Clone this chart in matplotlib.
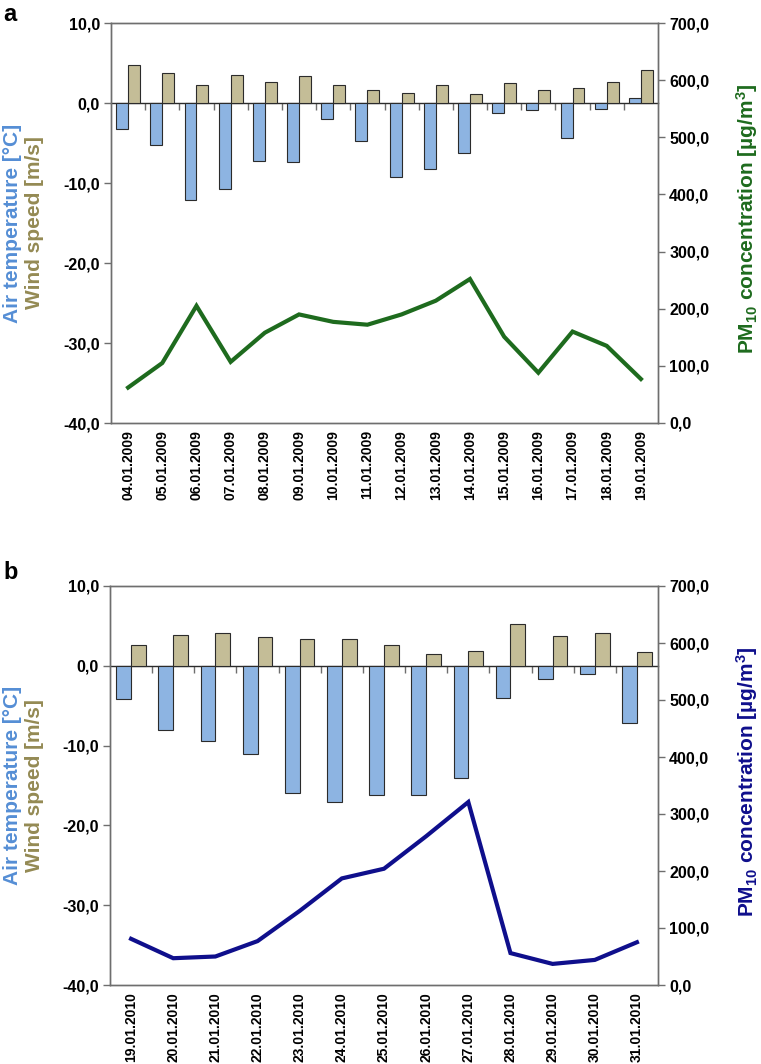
import matplotlib
matplotlib.use("Agg")
import matplotlib.pyplot as plt
import numpy as np
from matplotlib.ticker import FuncFormatter, NullFormatter

plt.rcParams['font.family'] = ['Liberation Sans', 'DejaVu Sans']
plt.rcParams['font.weight'] = 'bold'
plt.rcParams['mathtext.fontset'] = 'custom'
plt.rcParams['mathtext.rm'] = 'Liberation Sans:bold'
plt.rcParams['mathtext.bf'] = 'Liberation Sans:bold'
plt.rcParams['mathtext.it'] = 'Liberation Sans:bold'

# ---- Data panel a ----
dates_a = ["04.01.2009", "05.01.2009", "06.01.2009", "07.01.2009", "08.01.2009",
           "09.01.2009", "10.01.2009", "11.01.2009", "12.01.2009", "13.01.2009",
           "14.01.2009", "15.01.2009", "16.01.2009", "17.01.2009", "18.01.2009",
           "19.01.2009"]
temp_a = [-3.2, -5.3, -12.1, -10.8, -7.3, -7.4, -2.0, -4.7, -9.3, -8.2,
          -6.3, -1.2, -0.9, -4.4, -0.8, 0.6]
wind_a = [4.7, 3.8, 2.3, 3.5, 2.6, 3.4, 2.3, 1.6, 1.3, 2.2,
          1.1, 2.5, 1.6, 1.9, 2.6, 4.1]
pm_a = [62, 105, 205, 107, 158, 190, 177, 172, 190, 214,
        252, 151, 88, 160, 135, 77]

# ---- Data panel b ----
dates_b = ["19.01.2010", "20.01.2010", "21.01.2010", "22.01.2010", "23.01.2010",
           "24.01.2010", "25.01.2010", "26.01.2010", "27.01.2010", "28.01.2010",
           "29.01.2010", "30.01.2010", "31.01.2010"]
temp_b = [-4.1, -8.0, -9.4, -11.0, -15.9, -17.1, -16.2, -16.2, -14.1, -4.0,
          -1.6, -1.0, -7.2]
wind_b = [2.6, 3.8, 4.1, 3.6, 3.3, 3.3, 2.6, 1.5, 1.8, 5.3, 3.7, 4.1, 1.7]
pm_b = [81, 47, 50, 77, 130, 187, 204, 261, 321, 56, 37, 44, 75]

temp_ticks = [-40, -30, -20, -10, 0, 10]
pm_ticks = [0, 100, 200, 300, 400, 500, 600, 700]

BLUE = '#8DB4E2'
TAN = '#C4BD97'
EDGE = '#2b2b2b'
SPINE = '#6e6e6e'
LBL_BLUE = '#558ED5'
LBL_TAN = '#948A54'

W, H = 761, 1064
fig = plt.figure(figsize=(W / 100, H / 100), dpi=100)

comma = FuncFormatter(lambda v, p: f"{v:.1f}".replace('.', ','))


def panel(top_px, bottom_px, left_px, dates, temp, wind, pm, lcolor, letter, letter_y):
    left = left_px / W
    right = 658 / W
    ax = fig.add_axes([left, 1 - bottom_px / H, right - left, (bottom_px - top_px) / H])
    n = len(dates)
    x = np.arange(n)
    bw = 0.35
    ax.bar(x - bw / 2, temp, width=bw, color=BLUE, edgecolor=EDGE, linewidth=0.8, zorder=2)
    ax.bar(x + bw / 2, wind, width=bw, color=TAN, edgecolor=EDGE, linewidth=0.8, zorder=2)
    ax.set_xlim(-0.5, n - 0.5)
    ax.set_ylim(-40, 10)
    ax.set_yticks(temp_ticks)
    ax.yaxis.set_major_formatter(comma)
    ax.tick_params(axis='y', direction='out', length=5, width=1, color=SPINE,
                   labelsize=11.5, pad=3)
    ax.set_xticks(x)
    ax.set_xticklabels(dates, rotation=90, fontsize=10, fontweight='bold')
    ax.tick_params(axis='x', length=0, pad=5)
    for s in ax.spines.values():
        s.set_color(SPINE)
        s.set_linewidth(1.0)

    # zero-line category axis with boundary ticks
    sec = ax.secondary_xaxis(0.8)
    sec.set_xticks(np.arange(n - 1) + 0.5)
    sec.xaxis.set_major_formatter(NullFormatter())
    sec.xaxis.set_ticks_position('bottom')
    sec.tick_params(axis='x', direction='out', length=5, width=1, color=SPINE,
                    labelbottom=False, labeltop=False)
    for s in sec.spines.values():
        s.set_color(EDGE)
        s.set_linewidth(1.0)

    ax2 = ax.twinx()
    ax2.plot(x, pm, color=lcolor, linewidth=3.0, solid_joinstyle='miter', zorder=3)
    ax2.set_ylim(0, 700)
    ax2.set_yticks(pm_ticks)
    ax2.yaxis.set_major_formatter(comma)
    ax2.tick_params(axis='y', direction='out', length=5, width=1, color=SPINE,
                    labelsize=11.5, pad=3)
    for s in ax2.spines.values():
        s.set_color(SPINE)
        s.set_linewidth(1.0)
    for lab in ax.get_yticklabels() + ax2.get_yticklabels():
        lab.set_fontweight('bold')

    yc = 1 - (top_px + bottom_px) / 2 / H
    fig.text(13 / W, yc, "Air temperature [°C]", rotation=90, ha='center', va='center',
             fontsize=15, fontweight='bold', color=LBL_BLUE)
    fig.text(35 / W, yc, "Wind speed [m/s]", rotation=90, ha='center', va='center',
             fontsize=15, fontweight='bold', color=LBL_TAN)
    fig.text(747 / W, yc + 4 / H, r"PM$_{10}$ concentration [µg/m$^{3}$]", rotation=90,
             ha='center', va='center', fontsize=15, fontweight='bold', color=lcolor)
    fig.text(3 / W, 1 - letter_y / H, letter, ha='left', va='baseline', fontsize=17,
             fontweight='bold', color='black')


panel(23, 423, 111, dates_a, temp_a, wind_a, pm_a, '#1E6B1E', 'a', 21)
panel(586, 985, 110, dates_b, temp_b, wind_b, pm_b, '#0F0F8C', 'b', 579)

fig.savefig("out.png", dpi=100)
